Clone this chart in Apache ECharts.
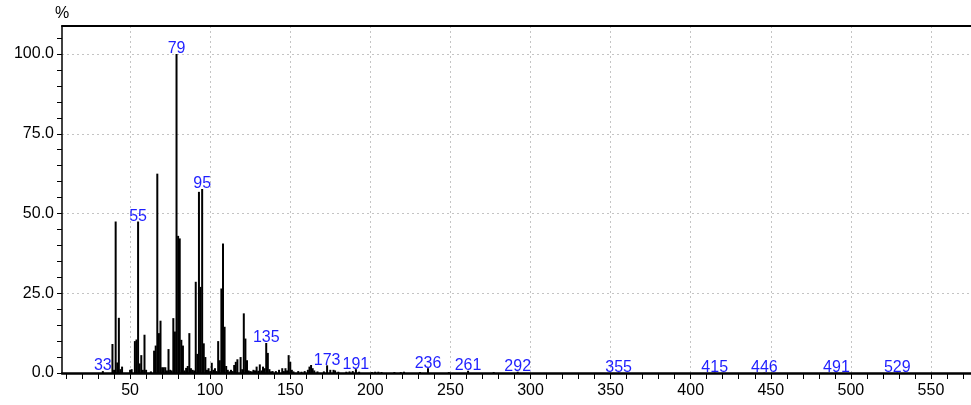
<!DOCTYPE html>
<html>
<head>
<meta charset="utf-8">
<script src="https://cdn.jsdelivr.net/npm/echarts@6/dist/echarts.min.js"></script>
<style>
html,body{margin:0;padding:0;background:#fff;}
#chart{width:971px;height:405px;}
</style>
</head>
<body>
<div id="chart"></div>
<script>
// m/z values and relative intensities (%)
const mzValues = [33,39,40,41,42,43,44,45,50,51,53,54,55,56,57,58,59,60,63,65,66,67,68,69,70,71,72,73,74,75,76,77,78,79,80,81,82,83,84,85,86,87,88,89,90,91,92,93,94,95,96,97,98,99,100,101,102,103,104,105,106,107,108,109,110,111,112,113,114,115,116,117,119,120,121,122,123,124,125,126,127,128,129,130,131,132,133,134,135,136,137,138,139,141,143,145,146,147,148,149,150,151,152,155,157,159,161,162,163,164,165,167,171,173,175,177,178,180,185,187,189,191,193,201,203,205,207,215,219,221,231,236,249,261,277,292,355,415,446,491,529];
const intensities = [0.6,9.1,1.0,47.5,3.3,17.3,1.2,2.0,1.0,1.2,10.0,10.5,47.5,3.0,5.6,1.0,12.0,1.0,0.5,7.0,8.6,62.5,12.5,16.4,1.8,1.8,1.8,0.8,7.5,1.0,0.8,17.2,13.0,100,43.0,42.2,10.4,8.6,0.8,1.6,2.2,12.5,1.5,1.0,0.8,28.6,6.0,56.8,27.0,57.7,9.3,5.0,1.0,1.5,0.6,3.2,1.0,1.5,0.6,10.0,4.0,26.5,40.6,14.5,2.2,1.0,0.5,1.0,0.6,2.5,3.5,4.3,5.0,1.2,18.7,10.8,4.0,0.8,0.6,0.5,1.0,0.8,2.0,0.7,2.7,0.8,2.0,1.5,9.4,6.3,1.2,0.5,0.6,0.6,1.0,1.5,0.6,1.5,0.8,5.6,3.5,1.0,0.5,0.6,0.4,0.6,1.0,2.0,2.5,1.5,0.8,0.5,0.5,2.4,1.0,1.0,0.8,0.4,0.4,0.5,0.6,1.2,0.4,0.3,0.4,0.4,0.3,0.3,0.3,0.4,0.3,1.5,0.3,0.7,0.3,0.4,0.1,0.1,0.1,0.1,0.1];
// peaks carrying an m/z label
const labeledPeaks = [33,55,79,95,135,173,191,236,261,292,355,415,446,491,529];
// axis tick / label positions
const xMinorTicks = [10,20,30,40,50,60,70,80,90,100,110,120,130,140,150,160,170,180,190,200,210,220,230,240,250,260,270,280,290,300,310,320,330,340,350,360,370,380,390,400,410,420,430,440,450,460,470,480,490,500,510,520,530,540,550,560,570];
const xTickLabels = [50,100,150,200,250,300,350,400,450,500,550];
const yMinorTicks = [0,5,10,15,20,25,30,35,40,45,50,55,60,65,70,75,80,85,90,95,100,105];
const yTickLabels = [0,25,50,75,100];

const FONT = 'Liberation Sans, Arial, sans-serif';
const chart = echarts.init(document.getElementById('chart'), null, {renderer:'canvas'});

const data = mzValues.map((m, i) => {
  const item = {value: [m, intensities[i]]};
  if (labeledPeaks.indexOf(m) >= 0) {
    item.label = {show: true};
  }
  return item;
});

chart.setOption({
  animation: false,
  textStyle: {fontFamily: FONT},
  grid: {left: 62, right: 0, top: 26, bottom: 32, containLabel: false},
  xAxis: [{
    type: 'value', position: 'bottom', min: 7.5, max: 575,
    axisLine: {onZero: false, lineStyle: {color: '#000', width: 2.5}},
    axisTick: {customValues: xMinorTicks, length: 6, lineStyle: {color: '#000', width: 1}},
    axisLabel: {customValues: xTickLabels, fontSize: 16, color: '#000', margin: 10, fontFamily: FONT},
    splitLine: {show: false}
  }, {
    type: 'value', position: 'top', min: 7.5, max: 575,
    axisLine: {show: true, onZero: false, lineStyle: {color: '#000', width: 2}},
    axisTick: {show: false, customValues: xTickLabels},
    axisLabel: {show: false, customValues: xTickLabels},
    splitLine: {show: true, lineStyle: {type: [2, 3], color: '#c4c4c4', width: 1}}
  }],
  yAxis: [{
    type: 'value', position: 'left', min: 0, max: 108.8,
    name: '%', nameLocation: 'end', nameGap: 4,
    nameTextStyle: {fontSize: 16, color: '#000', fontFamily: FONT, align: 'center', verticalAlign: 'bottom'},
    axisLine: {show: true, onZero: false, lineStyle: {color: '#000', width: 1.5}},
    axisTick: {customValues: yMinorTicks, length: 5, lineStyle: {color: '#000', width: 1}},
    axisLabel: {customValues: yTickLabels, fontSize: 16, color: '#000', margin: 8, fontFamily: FONT,
      formatter: v => Number(v).toFixed(1)},
    splitLine: {show: false}
  }, {
    type: 'value', position: 'left', min: 0, max: 108.8,
    axisLine: {show: false, onZero: false},
    axisTick: {show: false, customValues: [25,50,75,100]},
    axisLabel: {show: false, customValues: [25,50,75,100]},
    splitLine: {show: true, lineStyle: {type: [2, 3], color: '#c4c4c4', width: 1}}
  }],
  series: [{
    type: 'bar',
    xAxisIndex: 0, yAxisIndex: 0,
    data: data,
    barWidth: 2,
    itemStyle: {color: '#000'},
    label: {
      show: false, position: 'top', distance: -3,
      fontSize: 16, color: '#1f1fff', fontFamily: FONT,
      formatter: p => String(p.value[0])
    },
    z: 3
  }]
});
</script>
</body>
</html>
